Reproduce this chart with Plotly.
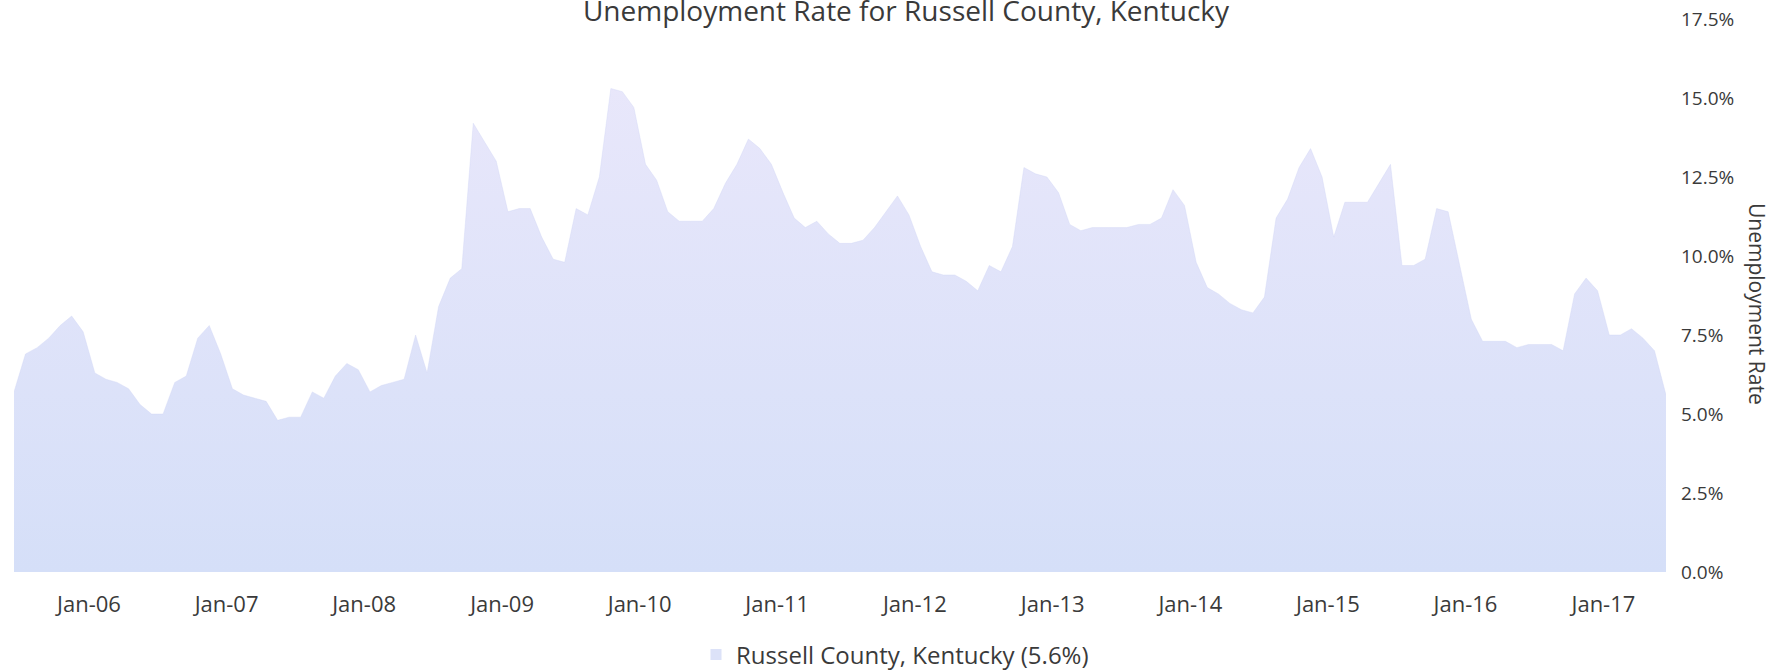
import pandas as pd
import plotly.graph_objects as go

# ---- data (monthly unemployment rate, Jun-2005 .. Jun-2017) ----
start_month = "2005-06-01"
rates = [
    5.7, 6.9, 7.1, 7.4, 7.8, 8.1, 7.6, 6.3, 6.1, 6.0, 5.8, 5.3,   # Jun05-May06
    5.0, 5.0, 6.0, 6.2, 7.4, 7.8, 6.9, 5.8, 5.6, 5.5, 5.4, 4.8,   # Jun06-May07
    4.9, 4.9, 5.7, 5.5, 6.2, 6.6, 6.4, 5.7, 5.9, 6.0, 6.1, 7.5,   # Jun07-May08
    6.3, 8.4, 9.3, 9.6, 14.2, 13.6, 13.0, 11.4, 11.5, 11.5, 10.6, 9.9,  # Jun08-May09
    9.8, 11.5, 11.3, 12.5, 15.3, 15.2, 14.7, 12.9, 12.4, 11.4, 11.1, 11.1,  # Jun09-May10
    11.1, 11.5, 12.3, 12.9, 13.7, 13.4, 12.9, 12.0, 11.2, 10.9, 11.1, 10.7,  # Jun10-May11
    10.4, 10.4, 10.5, 10.9, 11.4, 11.9, 11.3, 10.3, 9.5, 9.4, 9.4, 9.2,   # Jun11-May12
    8.9, 9.7, 9.5, 10.3, 12.8, 12.6, 12.5, 12.0, 11.0, 10.8, 10.9, 10.9,  # Jun12-May13
    10.9, 10.9, 11.0, 11.0, 11.2, 12.1, 11.6, 9.8, 9.0, 8.8, 8.5, 8.3,   # Jun13-May14
    8.2, 8.7, 11.2, 11.8, 12.8, 13.4, 12.5, 10.6, 11.7, 11.7, 11.7, 12.3,  # Jun14-May15
    12.9, 9.7, 9.7, 9.9, 11.5, 11.4, 9.7, 8.0, 7.3, 7.3, 7.3, 7.1,   # Jun15-May16
    7.2, 7.2, 7.2, 7.0, 8.8, 9.3, 8.9, 7.5, 7.5, 7.7, 7.4, 7.0,   # Jun16-May17
    5.6,                                                            # Jun17
]
series_name = "Russell County, Kentucky (5.6%)"
chart_title = "Unemployment Rate for Russell County, Kentucky"
y_title = "Unemployment Rate"
x_tick_vals = [f"{y}-01-01" for y in range(2006, 2018)]
x_tick_text = ["Jan-06", "Jan-07", "Jan-08", "Jan-09", "Jan-10", "Jan-11",
               "Jan-12", "Jan-13", "Jan-14", "Jan-15", "Jan-16", "Jan-17"]
y_tick_vals = [0, 2.5, 5, 7.5, 10, 12.5, 15, 17.5]
y_tick_text = ["0.0%", "2.5%", "5.0%", "7.5%", "10.0%", "12.5%", "15.0%", "17.5%"]

dates = pd.date_range(start_month, periods=len(rates), freq="MS")

# ---- layout geometry ----
W, H = 1781, 670
ML, MR, MT, MB = 14, 115, 19, 98
plot_w = W - ML - MR
plot_h = H - MT - MB

FONT = "Open Sans"
TXT = "#3a3a3a"
FILL_TOP = "#ebe8fb"
FILL_BOT = "#d5dff8"

fig = go.Figure()
fig.add_trace(go.Scatter(
    x=dates, y=rates, mode="lines", fill="tozeroy",
    xperiod="M1", xperiodalignment="middle",
    line=dict(width=0.6, color="rgba(205,210,245,0.6)"),
    fillgradient=dict(type="vertical", start=0, stop=17.5,
                      colorscale=[[0, FILL_BOT], [1, FILL_TOP]]),
    showlegend=False, hoverinfo="x+y",
))
# legend entry with a small square swatch
fig.add_trace(go.Scatter(
    x=[None], y=[None], mode="markers", name=series_name,
    marker=dict(symbol="square", size=11, color="#dce2f8"),
))

fig.update_layout(
    width=W, height=H,
    margin=dict(l=ML, r=MR, t=MT, b=MB, autoexpand=False),
    paper_bgcolor="white", plot_bgcolor="white",
    font=dict(family=FONT, size=20, color=TXT),
    title=dict(text=chart_title, x=906 / W, xanchor="center",
               y=1 - 10.8 / H, yanchor="middle", yref="container",
               font=dict(family=FONT, size=28, color=TXT)),
    showlegend=True,
    legend=dict(orientation="h", x=(696 - ML) / plot_w, xanchor="left",
                y=(MT + plot_h - 655) / plot_h, yanchor="middle",
                font=dict(family=FONT, size=24, color=TXT),
                bgcolor="rgba(0,0,0,0)", borderwidth=0),
    xaxis=dict(type="date", range=["2005-06-16", "2017-06-16"],
               tickvals=x_tick_vals, ticktext=x_tick_text,
               showgrid=False, zeroline=False, showline=False,
               ticks="", ticklabelstandoff=17,
               tickfont=dict(family=FONT, size=22, color=TXT)),
    yaxis=dict(range=[0, 17.5], side="right",
               tickvals=y_tick_vals, ticktext=y_tick_text,
               showgrid=False, zeroline=False, showline=False,
               ticks="", ticklabelstandoff=14,
               tickfont=dict(family=FONT, size=19, color=TXT)),
    annotations=[dict(text=y_title, textangle=90, xref="paper", yref="paper",
                      x=(1757 - ML) / plot_w, y=(MT + plot_h - 304) / plot_h,
                      xanchor="center", yanchor="middle", showarrow=False,
                      font=dict(family=FONT, size=21, color=TXT))],
)

# remove the browser's default 8px page margin so the figure sits at (0, 0)
fig.write_html("out.html", config={"displayModeBar": False},
               post_script="document.body.style.margin='0px';")
